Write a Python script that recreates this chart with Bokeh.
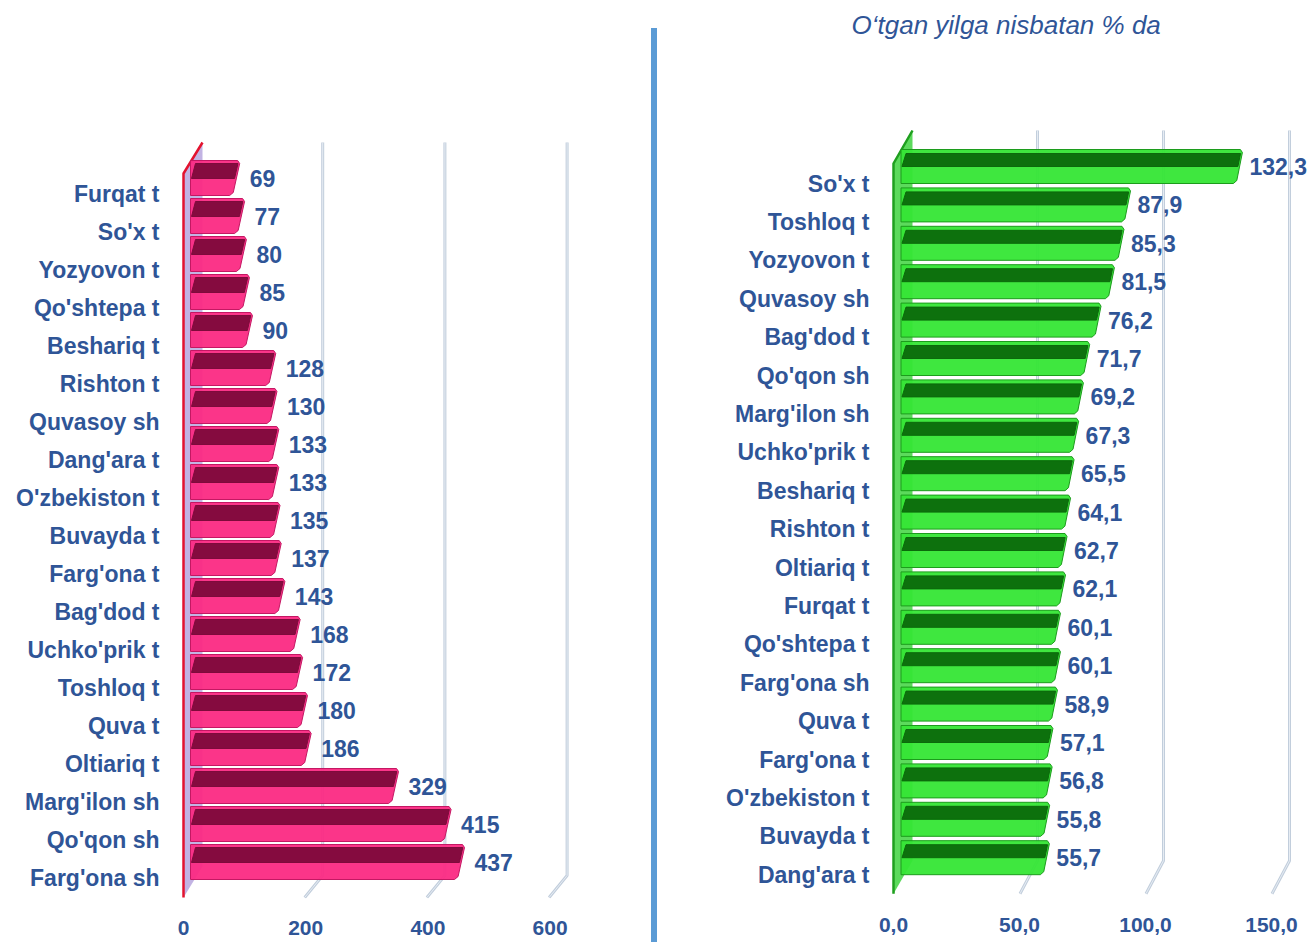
from bokeh.plotting import figure
from bokeh.models import Range1d, FixedTicker, LinearAxis, Div
from bokeh.layouts import row
from bokeh.embed import file_html
from bokeh.resources import INLINE
from bokeh.core.properties import value

# ---------------- data ----------------
left_categories = ["Furqat t", "So'x t", "Yozyovon t", "Qo'shtepa t", "Beshariq t",
                   "Rishton t", "Quvasoy sh", "Dang'ara t", "O'zbekiston t", "Buvayda t",
                   "Farg'ona t", "Bag'dod t", "Uchko'prik t", "Toshloq t", "Quva t",
                   "Oltiariq t", "Marg'ilon sh", "Qo'qon sh", "Farg'ona sh"]
left_values = [69, 77, 80, 85, 90, 128, 130, 133, 133, 135, 137, 143, 168, 172, 180,
               186, 329, 415, 437]
left_ticks = [0, 200, 400, 600]
left_tick_labels = ["0", "200", "400", "600"]

right_categories = ["So'x t", "Toshloq t", "Yozyovon t", "Quvasoy sh", "Bag'dod t",
                    "Qo'qon sh", "Marg'ilon sh", "Uchko'prik t", "Beshariq t", "Rishton t",
                    "Oltiariq t", "Furqat t", "Qo'shtepa t", "Farg'ona sh", "Quva t",
                    "Farg'ona t", "O'zbekiston t", "Buvayda t", "Dang'ara t"]
right_values = [132.3, 87.9, 85.3, 81.5, 76.2, 71.7, 69.2, 67.3, 65.5, 64.1, 62.7,
                62.1, 60.1, 60.1, 58.9, 57.1, 56.8, 55.8, 55.7]
right_ticks = [0, 50, 100, 150]
right_tick_labels = ["0,0", "50,0", "100,0", "150,0"]

right_title = "O\u2018tgan yilga nisbatan % da"

FONT = "Liberation Sans"
TEXT_BLUE = "#2f5597"


def build_panel(cats, vals, ticks, tick_labels, val_labels, cfg):
    W, H = cfg["W"], cfg["H"]
    fl, fr, ft, fb = cfg["frame"]
    x0, sx = cfg["x0"], cfg["sx"]
    y0, sy = cfg["y0"], cfg["sy"]
    x_start = (fl - x0) / sx
    x_end = (fr - x0) / sx
    y_top = (ft - y0) / sy
    y_bot = (fb - y0) / sy

    p = figure(width=W, height=H,
               x_range=Range1d(x_start, x_end), y_range=Range1d(y_bot, y_top),
               output_backend="svg", toolbar_location=None, x_axis_location=None,
               min_border_left=fl, min_border_right=W - fr,
               min_border_top=ft, min_border_bottom=H - fb, margin=(0, 0, 0, 0))
    p.outline_line_color = None
    p.xgrid.visible = False
    p.ygrid.visible = False
    p.background_fill_color = "white"
    p.border_fill_color = "white"

    n = len(cats)
    px = lambda d: d / sx   # pixel offset -> x data
    py = lambda d: d / sy   # pixel offset -> y data

    # wall geometry
    wf = px(cfg["wall_front"])
    wb = px(cfg["wall_back"])
    top_front = py(cfg["wall_top"])
    top_back = top_front - py(cfg["wall_dy"])
    bot_front = (n - 1) + py(cfg["wall_bot"])
    bot_back = bot_front - py(cfg["wall_dy"])

    # 3D grid lines
    gxs, gys = [], []
    for t in ticks:
        if t == 0:
            continue
        bx = t + px(cfg["grid_back"])
        fx = t + px(cfg["grid_front"])
        gxs.append([bx, bx, fx])
        gys.append([top_back, bot_front - py(cfg["grid_dy"]), bot_front])
    p.multi_line(gxs, gys, line_color="#c2cedc", line_width=3)
    p.multi_line(gxs, gys, line_color="#e6ecf3", line_width=1)

    # wall
    p.patch([wf, wb, wb, wf], [top_front, top_back, bot_back, bot_front],
            fill_color=cfg["wall_fill"], fill_alpha=0.85, line_color=None)
    p.line([wf, wf, wb], [bot_front, top_front, top_back],
           line_color=cfg["wall_edge"], line_width=2.5)

    # bars
    bxs, bys, dxs, dys = [], [], [], []
    centers = []
    sl = px(cfg["slant"])
    for k, v in enumerate(vals):
        yt = k + py(cfg["bar_top"])
        yb = k + py(cfg["bar_bot"])
        xa = px(cfg["bar_x0"])
        bxs.append([xa, v - px(2), v, v - sl * 0.8, v - sl - px(2), xa])
        bys.append([yt, yt, yt + py(3), yb - py(3), yb, yb])
        b1, b2 = cfg["band"]
        frac1 = b1 / (cfg["bar_bot"] - cfg["bar_top"])
        frac2 = b2 / (cfg["bar_bot"] - cfg["bar_top"])
        dxs.append([xa + px(5), v - px(1) - sl * frac1, v - px(1) - sl * frac2, xa + px(1)])
        dys.append([yt + py(b1), yt + py(b1), yt + py(b2), yt + py(b2)])
        centers.append(k + py((cfg["bar_top"] + cfg["bar_bot"]) / 2))
    p.patches(bxs, bys, fill_color=cfg["bar_fill"], fill_alpha=0.95,
              line_color=cfg["bar_edge"], line_width=1)
    p.patches(dxs, dys, fill_color=cfg["band_fill"], fill_alpha=0.95,
              line_color=cfg["band_fill"], line_width=1)

    # value labels
    p.text(x=vals, y=centers, text=val_labels, x_offset=cfg["lab_dx"],
           text_baseline="middle", text_align="left",
           text_font=value(FONT), text_font_style="bold",
           text_font_size="23px", text_color=TEXT_BLUE)

    # category axis
    p.yaxis.ticker = FixedTicker(ticks=list(range(n)))
    p.yaxis.major_label_overrides = {k: c for k, c in enumerate(cats)}
    p.yaxis.axis_line_color = None
    p.yaxis.major_tick_line_color = None
    p.yaxis.minor_tick_line_color = None
    p.yaxis.major_tick_out = 0
    p.yaxis.major_label_standoff = cfg["cat_standoff"]
    p.yaxis.major_label_text_font = FONT
    p.yaxis.major_label_text_font_style = "bold"
    p.yaxis.major_label_text_font_size = "23px"
    p.yaxis.major_label_text_color = TEXT_BLUE

    # value axis on front plane
    shift = -px(cfg["wall_front"])
    p.extra_x_ranges = {"front": Range1d(x_start + shift, x_end + shift)}
    ax = LinearAxis(x_range_name="front", ticker=FixedTicker(ticks=ticks),
                    major_label_overrides=dict(zip(ticks, tick_labels)))
    ax.axis_line_color = None
    ax.major_tick_line_color = None
    ax.minor_tick_line_color = None
    ax.major_tick_out = 0
    ax.major_label_standoff = cfg["tick_standoff"]
    ax.major_label_text_font = FONT
    ax.major_label_text_font_style = "bold"
    ax.major_label_text_font_size = "21px"
    ax.major_label_text_color = TEXT_BLUE
    p.add_layout(ax, "below")
    return p


left_cfg = dict(W=651, H=942, frame=(172, 630, 44, 898), x0=197, sx=0.611,
                y0=193, sy=38.0, bar_top=-33, bar_bot=2, band=(3, 18), bar_x0=-7,
                slant=8, wall_front=-14, wall_back=5, wall_dy=31, wall_top=-20,
                wall_bot=20, grid_back=3, grid_front=-15, grid_dy=22, lab_dx=10,
                cat_standoff=13, tick_standoff=22,
                bar_fill="#fb2a83", bar_edge="#c41863", band_fill="#7e0a3b",
                wall_fill="#b7a6de", wall_edge="#e3132f")

right_cfg = dict(W=655, H=942, frame=(225, 655, 44, 898), x0=251.5, sx=2.52,
                 y0=183, sy=38.4, bar_top=-34, bar_bot=0, band=(4, 17), bar_x0=-8,
                 slant=7, wall_front=-15.5, wall_back=3.5, wall_dy=33, wall_top=-20,
                 wall_bot=19, grid_back=2.5, grid_front=-15, grid_dy=33, lab_dx=7,
                 cat_standoff=13, tick_standoff=19,
                 bar_fill="#35e635", bar_edge="#1c9c1c", band_fill="#0b6a0b",
                 wall_fill="#3fd33f", wall_edge="#1f9f1f")

left_labels = [str(v) for v in left_values]
right_labels = [f"{v:.1f}".replace(".", ",") for v in right_values]

p1 = build_panel(left_categories, left_values, left_ticks, left_tick_labels, left_labels, left_cfg)
p2 = build_panel(right_categories, right_values, right_ticks, right_tick_labels, right_labels, right_cfg)

# title of the right chart
p2.title.text = right_title
p2.title.align = "left"
p2.title.offset = -31
p2.title.text_font = FONT
p2.title.text_font_style = "italic"
p2.title.text_font_size = "26px"
p2.title.text_color = TEXT_BLUE

divider = Div(text='<div style="width:6px;height:914px;margin-top:28px;background:#5B9BD5;"></div>',
              width=6, height=942, margin=(0, 0, 0, 0))

layout = row(p1, divider, p2, spacing=0, margin=(0, 0, 0, 0))

open("out.html", "w").write(file_html(layout, INLINE))
